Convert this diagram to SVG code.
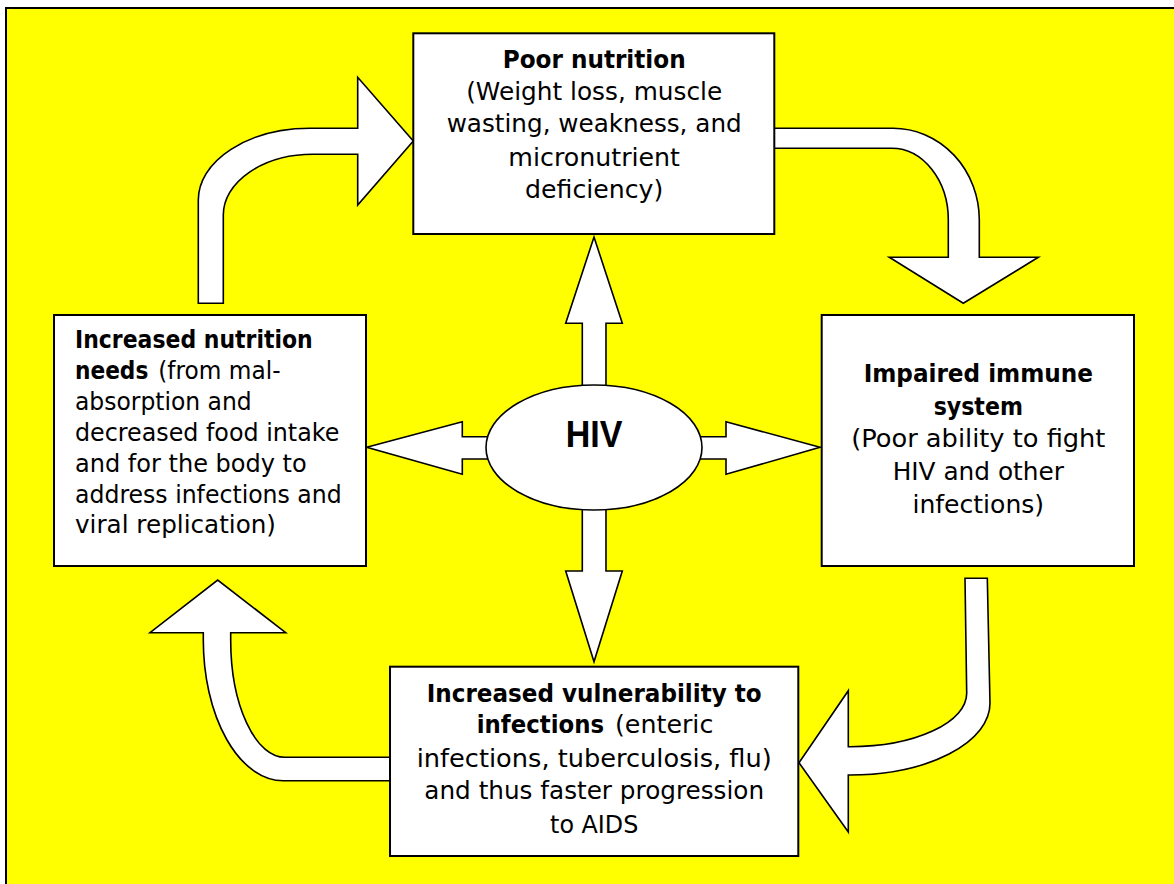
<svg xmlns="http://www.w3.org/2000/svg" width="1174" height="884" viewBox="0 0 1174 884">
<style>
.shape{fill:#ffffff;stroke:#000000;stroke-width:1.6;stroke-linejoin:miter}
.box{fill:#ffffff;stroke:#000000;stroke-width:2}
.t{font-family:"DejaVu Sans","Verdana",sans-serif;font-size:25.2px;fill:#000000}
.b{font-weight:bold}
.c{text-anchor:middle}
.hiv{font-family:"Liberation Sans","Arial",sans-serif;font-size:36px;font-weight:bold;text-anchor:middle;fill:#000000}
</style>
<rect x="0" y="0" width="1174" height="884" fill="#ffffff"/>
<rect id="frame" x="6" y="8" width="1200" height="900" fill="#ffff00" stroke="#000000" stroke-width="2"/>
<g id="connectors">
  <path id="arrow-left-to-top" class="shape" d="M198.3,303.3 L198.3,200 A111.7,71.7 0 0 1 310,128.3 L357.7,128.3 L357.7,77.3 L413.3,141 L357.7,205 L357.7,154.3 L313,154.3 A89.7,60.7 0 0 0 223.3,215 L223.3,303.3 Z"/>
  <path id="arrow-top-to-right" class="shape" d="M772,128.3 L893,128.3 A86.3,91.7 0 0 1 979.3,220 L979.3,257.3 L1038.3,257.3 L963.3,303.3 L889.3,257.3 L948.3,257.3 L948.3,220 A56.6,71.7 0 0 0 891.7,148.3 L772,148.3 Z"/>
  <path id="arrow-right-to-bottom" class="shape" d="M987.3,578.3 L990,703.3 A140,71.7 0 0 1 850,775 L848.3,775 L848.3,832 L799,762.7 L848.3,690.7 L848.3,746.7 L850,746.7 A116.7,53.4 0 0 0 966.7,693.3 L965,578.3 Z"/>
  <path id="arrow-bottom-to-left" class="shape" d="M392,780.7 L283.3,780.7 A80,140.7 0 0 1 203.3,640 L203.3,632.7 L150,632.7 L217.7,580 L285.7,632.7 L230.7,632.7 L230.7,640 A54.3,117.3 0 0 0 285,757.3 L392,757.3 Z"/>
  <path id="arrow-hiv-up" class="shape" d="M582.3,400 L582.3,323.3 L565.7,323.3 L594,237 L622.3,323.3 L606,323.3 L606,400 Z"/>
  <path id="arrow-hiv-down" class="shape" d="M582.3,495 L582.3,571 L565.7,571 L594,661.7 L622.3,571 L606,571 L606,495 Z"/>
  <path id="arrow-hiv-left" class="shape" d="M500,436.7 L462.3,436.7 L462.3,421.7 L366.7,447.3 L462.3,474.3 L462.3,459 L500,459 Z"/>
  <path id="arrow-hiv-right" class="shape" d="M690,436.7 L726,436.7 L726,421.7 L820,447.3 L726,474.3 L726,459 L690,459 Z"/>
</g>
<g id="node-poor-nutrition">
  <rect class="box" x="413.3" y="33.3" width="361" height="200.7"/>
  <text class="t b c" x="594.2" y="68.3" textLength="183" lengthAdjust="spacingAndGlyphs">Poor nutrition</text>
  <text class="t c" x="594.2" y="100.3" textLength="256" lengthAdjust="spacingAndGlyphs">(Weight loss, muscle</text>
  <text class="t c" x="594.2" y="132.3" textLength="295" lengthAdjust="spacingAndGlyphs">wasting, weakness, and</text>
  <text class="t c" x="594.2" y="165.5" textLength="171.7" lengthAdjust="spacingAndGlyphs">micronutrient</text>
  <text class="t c" x="594.2" y="198.3" textLength="138.3" lengthAdjust="spacingAndGlyphs">deficiency)</text>
</g>
<g id="node-immune">
  <rect class="box" x="821.7" y="315" width="312.3" height="251"/>
  <text class="t b c" x="978.3" y="381.7" textLength="229.3" lengthAdjust="spacingAndGlyphs">Impaired immune</text>
  <text class="t b c" x="978.3" y="415" textLength="89.3" lengthAdjust="spacingAndGlyphs">system</text>
  <text class="t c" x="978.3" y="446.7" textLength="254.3" lengthAdjust="spacingAndGlyphs">(Poor ability to fight</text>
  <text class="t c" x="978.3" y="480" textLength="171.3" lengthAdjust="spacingAndGlyphs">HIV and other</text>
  <text class="t c" x="978.3" y="513.3" textLength="131.7" lengthAdjust="spacingAndGlyphs">infections)</text>
</g>
<g id="node-vulnerability">
  <rect class="box" x="390" y="666.7" width="408.3" height="189.3"/>
  <text class="t b c" x="594.2" y="701.7" textLength="335" lengthAdjust="spacingAndGlyphs">Increased vulnerability to</text>
  <text class="t b" x="476.7" y="733.3" textLength="127.3" lengthAdjust="spacingAndGlyphs">infections</text>
  <text class="t" x="615" y="733.3" textLength="98.3" lengthAdjust="spacingAndGlyphs">(enteric</text>
  <text class="t c" x="594.2" y="767" textLength="355" lengthAdjust="spacingAndGlyphs">infections, tuberculosis, flu)</text>
  <text class="t c" x="594.2" y="799.3" textLength="339.7" lengthAdjust="spacingAndGlyphs">and thus faster progression</text>
  <text class="t c" x="594.2" y="833.3" textLength="88.3" lengthAdjust="spacingAndGlyphs">to AIDS</text>
</g>
<g id="node-increased-needs">
  <rect class="box" x="54" y="315" width="312" height="251"/>
  <text class="t b" x="75" y="348.3" textLength="237.7" lengthAdjust="spacingAndGlyphs">Increased nutrition</text>
  <text class="t b" x="75" y="379.3" textLength="73.3" lengthAdjust="spacingAndGlyphs">needs</text>
  <text class="t" x="158.3" y="379.3" textLength="122.3" lengthAdjust="spacingAndGlyphs">(from mal-</text>
  <text class="t" x="75" y="410" textLength="176.7" lengthAdjust="spacingAndGlyphs">absorption and</text>
  <text class="t" x="75" y="440.7" textLength="264.3" lengthAdjust="spacingAndGlyphs">decreased food intake</text>
  <text class="t" x="75" y="471.7" textLength="231.7" lengthAdjust="spacingAndGlyphs">and for the body to</text>
  <text class="t" x="75" y="502.7" textLength="266.7" lengthAdjust="spacingAndGlyphs">address infections and</text>
  <text class="t" x="75" y="533.3" textLength="201" lengthAdjust="spacingAndGlyphs">viral replication)</text>
</g>
<g id="node-hiv">
  <ellipse class="shape" cx="594" cy="447.5" rx="108" ry="62.5"/>
  <text class="hiv" x="594" y="446.7" textLength="56.7" lengthAdjust="spacingAndGlyphs">HIV</text>
</g>
</svg>
